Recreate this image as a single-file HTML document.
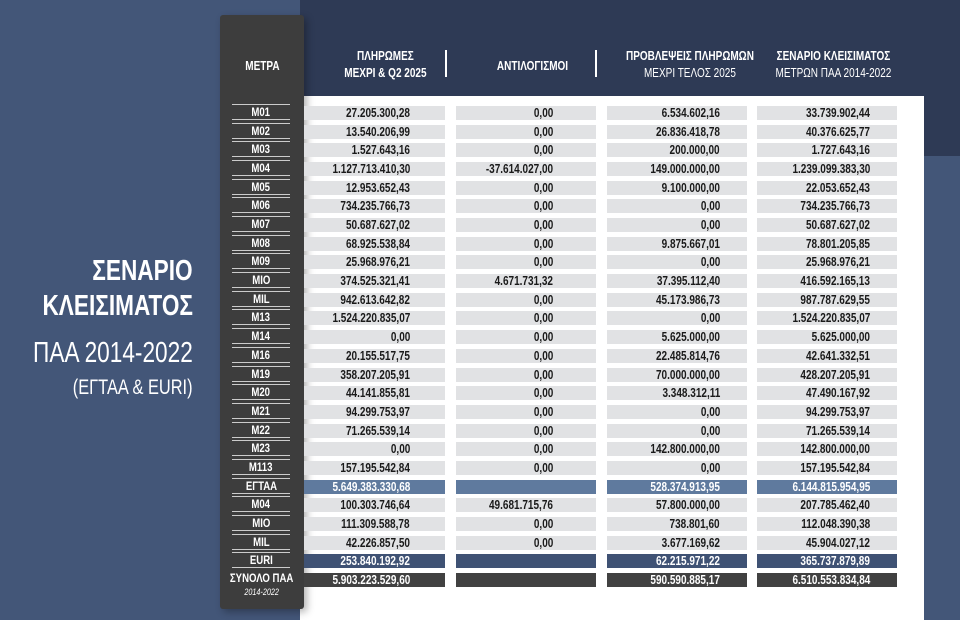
<!DOCTYPE html>
<html><head><meta charset="utf-8"><style>
body{margin:0;width:960px;height:620px;position:relative;overflow:hidden;background:#435678;font-family:"Liberation Sans",sans-serif;}
.a{position:absolute}
.s{display:inline-block;transform:scaleX(.8);white-space:nowrap}
.hd{color:#fff;font-weight:bold;font-size:12.5px;text-align:center;line-height:17px;white-space:nowrap}
.hd .s{transform-origin:center}
.c{position:absolute;height:14px;background:#e1e2e4;font-weight:bold;font-size:12.5px;line-height:14px;text-align:right;box-sizing:border-box;color:#1a1a1a}
.c .s{transform-origin:right center}
.l{position:absolute;left:232px;width:58px;text-align:center;color:#fff;font-weight:bold;font-size:12px;line-height:14px;border-top:1.5px solid #ccc;border-bottom:1.5px solid #ccc;height:14px}
.t{position:absolute;right:767px;color:#fff;text-align:right;white-space:nowrap}
.t .s{transform-origin:right center;transform:scaleX(.78)}
</style></head><body>
<div class="a" style="left:300px;top:0;width:660px;height:96px;background:#2e3a55"></div>
<div class="a" style="left:924px;top:96px;width:36px;height:60px;background:#2e3a55"></div>
<div class="a" style="left:300px;top:96px;width:624px;height:524px;background:#fff"></div>
<div class="a" style="left:220px;top:15px;width:84px;height:594px;background:#3d3d3d;border-radius:3px;box-shadow:3px 3px 8px rgba(0,0,0,.3)"></div>
<div class="t" style="top:255px;font-size:29px;font-weight:bold"><span class="s">ΣΕΝΑΡΙΟ</span></div>
<div class="t" style="top:290px;font-size:29px;font-weight:bold"><span class="s">ΚΛΕΙΣΙΜΑΤΟΣ</span></div>
<div class="t" style="top:337px;font-size:29px"><span class="s">ΠΑΑ 2014-2022</span></div>
<div class="t" style="top:376px;font-size:21px"><span class="s">(ΕΓΤΑΑ &amp; EURI)</span></div>
<div class="a hd" style="left:220px;top:58px;width:84px"><span class="s">ΜΕΤΡΑ</span></div>
<div class="a hd" style="left:315px;top:48px;width:140px"><span class="s">ΠΛΗΡΩΜΕΣ<br>ΜΕΧΡΙ &amp; Q2 2025</span></div>
<div class="a hd" style="left:462px;top:58px;width:140px"><span class="s">ΑΝΤΙΛΟΓΙΣΜΟΙ</span></div>
<div class="a hd" style="left:600px;top:48px;width:180px;"><span class="s">ΠΡΟΒΛΕΨΕΙΣ ΠΛΗΡΩΜΩΝ<br><span style="font-weight:normal">ΜΕΧΡΙ ΤΕΛΟΣ 2025</span></span></div>
<div class="a hd" style="left:743px;top:48px;width:180px"><span class="s">ΣΕΝΑΡΙΟ ΚΛΕΙΣΙΜΑΤΟΣ<br><span style="font-weight:normal">ΜΕΤΡΩΝ ΠΑΑ 2014-2022</span></span></div>
<div class="a" style="left:445px;top:50px;width:2px;height:27px;background:#fff"></div>
<div class="a" style="left:595px;top:50px;width:2px;height:27px;background:#fff"></div>
<div id="rows"></div>
<script>
var d=[["Μ01","27.205.300,28","0,00","6.534.602,16","33.739.902,44"],
["Μ02","13.540.206,99","0,00","26.836.418,78","40.376.625,77"],
["Μ03","1.527.643,16","0,00","200.000,00","1.727.643,16"],
["Μ04","1.127.713.410,30","-37.614.027,00","149.000.000,00","1.239.099.383,30"],
["Μ05","12.953.652,43","0,00","9.100.000,00","22.053.652,43"],
["Μ06","734.235.766,73","0,00","0,00","734.235.766,73"],
["Μ07","50.687.627,02","0,00","0,00","50.687.627,02"],
["Μ08","68.925.538,84","0,00","9.875.667,01","78.801.205,85"],
["Μ09","25.968.976,21","0,00","0,00","25.968.976,21"],
["ΜΙΟ","374.525.321,41","4.671.731,32","37.395.112,40","416.592.165,13"],
["ΜΙL","942.613.642,82","0,00","45.173.986,73","987.787.629,55"],
["Μ13","1.524.220.835,07","0,00","0,00","1.524.220.835,07"],
["Μ14","0,00","0,00","5.625.000,00","5.625.000,00"],
["Μ16","20.155.517,75","0,00","22.485.814,76","42.641.332,51"],
["Μ19","358.207.205,91","0,00","70.000.000,00","428.207.205,91"],
["Μ20","44.141.855,81","0,00","3.348.312,11","47.490.167,92"],
["Μ21","94.299.753,97","0,00","0,00","94.299.753,97"],
["Μ22","71.265.539,14","0,00","0,00","71.265.539,14"],
["Μ23","0,00","0,00","142.800.000,00","142.800.000,00"],
["Μ113","157.195.542,84","0,00","0,00","157.195.542,84"],
["ΕΓΤΑΑ","5.649.383.330,68","","528.374.913,95","6.144.815.954,95"],
["Μ04","100.303.746,64","49.681.715,76","57.800.000,00","207.785.462,40"],
["ΜΙΟ","111.309.588,78","0,00","738.801,60","112.048.390,38"],
["ΜΙL","42.226.857,50","0,00","3.677.169,62","45.904.027,12"],
["EURI","253.840.192,92","","62.215.971,22","365.737.879,89"],
["ΣΥΝΟΛΟ ΠΑΑ","5.903.223.529,60","","590.590.885,17","6.510.553.834,84"]];
var X=[[304,141,35],[456,140,43],[607,140,27],[757,140,27]],h="";
d.forEach(function(r,i){var y=Math.round(106+i*18.68),bg="#e1e2e4",fc="#1a1a1a";
if(i==20){bg="#5f7a9e";fc="#fff"}if(i==24){bg="#3f5274";fc="#fff"}if(i==25){bg="#414141";fc="#fff"}
if(i<25)h+='<div class="l" style="top:'+(y-2)+'px"><span class="s">'+r[0]+'</span></div>';
else h+='<div class="a" style="left:220px;width:84px;top:'+(y-1)+'px;text-align:center;color:#fff;font-weight:bold;font-size:12px;line-height:13px"><span class="s">'+r[0]+'<br><i style="font-weight:normal;font-size:9px">2014-2022</i></span></div>';
for(var k=0;k<4;k++)h+='<div class="c" style="left:'+X[k][0]+'px;width:'+X[k][1]+'px;top:'+y+'px;padding-right:'+X[k][2]+'px;background:'+bg+';color:'+fc+'"><span class="s">'+r[k+1]+'</span></div>';});
document.getElementById("rows").innerHTML=h;
</script>
</body></html>
